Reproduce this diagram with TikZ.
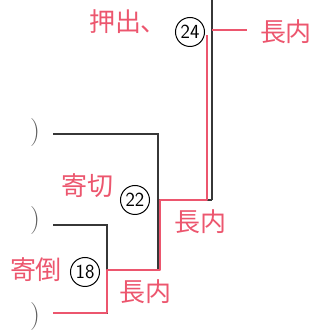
\documentclass[tikz,border=0pt]{standalone}
\usepackage{fontspec}
\newfontfamily\jpfont{Noto Sans CJK JP}
\usepackage{xcolor}
\usetikzlibrary{positioning}
\definecolor{pen}{RGB}{236,86,110}
\definecolor{ink}{RGB}{55,55,55}

\begin{document}
\begin{tikzpicture}[x=1pt,y=-1pt,
  line/.style={ink, line width=1.2pt},
  win/.style={pen, line width=2.2pt, line join=round},
  num/.style={draw=black, circle, line width=1pt, inner sep=0pt, minimum size=29pt, font=\sffamily\fontsize{20}{20}\selectfont},
  hand/.style={pen, font=\jpfont\fontsize{26}{26}\selectfont},
  paren/.style={ink!80, font=\fontsize{28}{28}\selectfont}]
\useasboundingbox (0,0) rectangle (333,331);
% entries
\coordinate (a1) at (53,134);
\coordinate (a2) at (53,225);
\coordinate (a3) at (53,313);
% bout 18
\coordinate (c18) at (107,225);
\coordinate (d18) at (107,313);
\coordinate (w18) at (107,270);
% bout 22
\coordinate (c22) at (158,134);
\coordinate (d22) at (158,270);
\coordinate (w22) at (158,200);
% bout 24
\coordinate (c24) at (212,0);
\coordinate (d24) at (212,200);
\coordinate (w24) at (212,30);
\coordinate (e24) at (247,30);
\draw[line] (a2) -- (c18) -- (d18) -- (a3);
\draw[line] (w18) -- (d22);
\draw[line] (a1) -- (c22) -- (d22);
\draw[line] (w22) -- (d24);
\draw[line] (c24) -- (d24);
% winner
\draw[win] (a3) -- (d18) -- (w18) -- ([xshift=2pt]d22) -- ([xshift=2pt]w22) -- ([xshift=-5pt]d24) -- ([xshift=-5pt,yshift=-5pt]w24);
\draw[win] (w24) -- (e24);
\node[paren] (p1) at (35,133) {)};
\node[paren] (p2) at (35,221) {)};
\node[paren] (p3) at (35,317) {)};
\node[num] (n18) at (85,272) {18};
\node[num] (n22) at (135,200) {22};
\node[num] (n24) at (190,32) {24};
\node[hand] (k18) at (36,270) {寄倒};
\node[hand] (k22) at (88,186) {寄切};
\node[hand] (k24) at (128,22) {押出、};
\node[hand] (s18) at (146,292) {長内};
\node[hand] (s22) at (201,222) {長内};
\node[hand] (s24) at (286,32) {長内};
\end{tikzpicture}
\end{document}
